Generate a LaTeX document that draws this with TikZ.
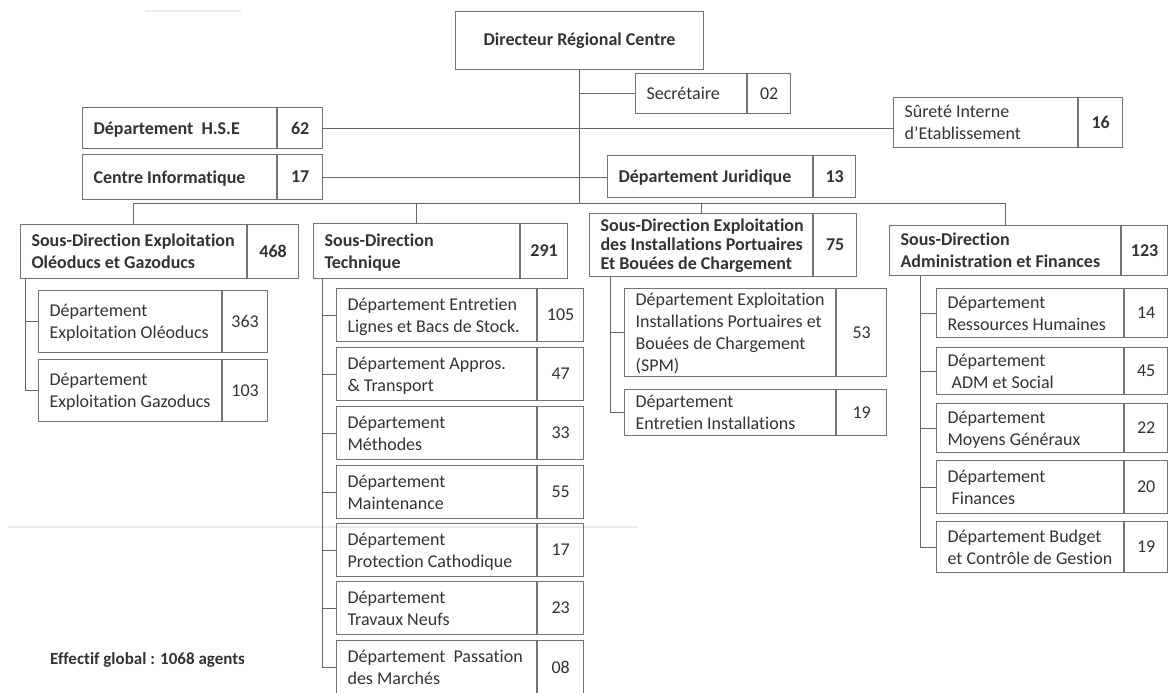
\documentclass[tikz,border=0pt]{standalone}
\usepackage{fontspec}
\setmainfont{Carlito}[Ligatures={TeX,NoCommon}]
\usetikzlibrary{positioning}

\tikzset{
  cell/.style={draw=black!55, line width=1.1pt, inner sep=0pt, text=black!80},
  head/.style={cell, font=\bfseries\fontsize{18}{22}\selectfont},
  dept/.style={cell, font=\fontsize{18}{22}\selectfont},
  tight/.style={font=\bfseries\fontsize{18}{19}\selectfont},
  link/.style={draw=black!60, line width=1pt},
}

% text block, left aligned in a cell of given width
\newcommand{\cellrows}[2]{\makebox[\dimexpr#1pt-22pt\relax][l]{\raisebox{-2pt}[\height][\depth]{\begin{tabular}{@{}l@{}}#2\end{tabular}}}}
% style, name, x, y, label width, number width, height, text, number
\newcommand{\orgunit}[9]{%
  \node[#1, anchor=north west, minimum width=#5, minimum height=#7] (#2) at (#3,#4) {\cellrows{#5}{#8}};
  \node[#1, anchor=north west, minimum width=#6, minimum height=#7] (#2n) at (#2.north east) {#9};}

\begin{document}
\begin{tikzpicture}[x=1pt, y=-1pt]
  \useasboundingbox (0,0) rectangle (1168,693);
  % scan marks
  \draw[black!8, line width=1.5pt] (145,11) -- (241,11);
  \draw[black!8, line width=1.5pt] (8,527) -- (638,527);

  % Direction
  \node[head, anchor=north west, minimum width=248, minimum height=58] (dir) at (455,11) {Directeur Régional Centre};
  \orgunit{dept}{sec}{635}{73}{111}{43}{40}{Secrétaire}{02}
  \orgunit{dept}{sur}{893}{97}{184}{44}{50}{Sûreté Interne\\d'Etablissement}{\bfseries 16}
  \orgunit{head}{hse}{82}{107}{194}{45}{41}{Département~~H.S.E}{62}
  \orgunit{head}{cin}{82}{154}{194}{45}{45}{Centre Informatique}{17}
  \orgunit{head}{jur}{607}{155}{205}{42}{42}{Département Juridique}{13}

  % Sous-directions
  \orgunit{head}{sd1}{20}{224}{226}{51}{54}{Sous-Direction Exploitation\\Oléoducs et Gazoducs}{468}
  \orgunit{head}{sd2}{313}{223}{206}{47}{55}{Sous-Direction\\Technique}{291}
  \orgunit{head,tight}{sd3}{589}{213}{223}{43}{63}{Sous-Direction Exploitation\\des Installations Portuaires\\Et Bouées de Chargement}{75}
  \orgunit{head}{sd4}{889}{225}{231}{46}{50}{Sous-Direction\\Administration et Finances}{123}

  % Oleoducs et Gazoducs
  \orgunit{dept}{og1}{38}{290}{183}{45}{62}{Département\\Exploitation Oléoducs}{363}
  \orgunit{dept}{og2}{38}{359}{183}{45}{62}{Département\\Exploitation Gazoducs}{103}

  % Technique
  \orgunit{dept}{te1}{336}{288}{200}{46}{53}{Département Entretien\\Lignes et Bacs de Stock.}{105}
  \orgunit{dept}{te2}{336}{347}{200}{46}{53}{Département Appros.\\\& Transport}{47}
  \orgunit{dept}{te3}{336}{406}{200}{46}{53}{Département\\Méthodes}{33}
  \orgunit{dept}{te4}{336}{465}{200}{46}{53}{Département\\Maintenance}{55}
  \orgunit{dept}{te5}{336}{523}{200}{46}{53}{Département\\Protection Cathodique}{17}
  \orgunit{dept}{te6}{336}{581}{200}{46}{53}{Département\\Travaux Neufs}{23}
  \orgunit{dept}{te7}{336}{640}{200}{46}{53}{Département~~Passation\\des Marchés}{08}

  % Installations portuaires
  \orgunit{dept}{ip1}{624}{288}{211}{50}{88}{Département Exploitation\\Installations Portuaires et\\Bouées de Chargement\\(SPM)}{53}
  \orgunit{dept}{ip2}{624}{389}{211}{50}{46}{Département\\Entretien Installations}{19}

  % Administration et Finances
  \orgunit{dept}{af1}{936}{288}{187}{43}{49}{Département\\Ressources Humaines}{14}
  \orgunit{dept}{af2}{936}{347}{187}{43}{47}{Département\\\ ADM et Social}{45}
  \orgunit{dept}{af3}{936}{403}{187}{43}{49}{Département\\Moyens Généraux}{22}
  \orgunit{dept}{af4}{936}{460}{187}{43}{53}{Département\\\ Finances}{20}
  \orgunit{dept}{af5}{936}{521}{187}{43}{51}{Département Budget\\et Contrôle de Gestion}{19}

  \node[font=\bfseries\fontsize{17}{20}\selectfont, text=black!80, anchor=west, inner sep=0pt] (total) at (50,660) {Effectif global : 1068 agents};

  % Links
  \coordinate (busy) at (0,203);
  \draw[link] (dir.south) -- (dir.south |- busy);
  \draw[link] (dir.south |- sec.west) -- (sec.west);
  \draw[link] (hsen.east) -- (hsen.east -| sur.west);
  \draw[link] (cinn.east) -- (cinn.east -| jur.west);
  \draw[link] (sd1.north) |- (sd4.north |- busy) -- (sd4.north);
  \draw[link] (sd2.north) -- (sd2.north |- busy);
  \draw[link] (sd3.north) -- (sd3.north |- busy);

  \coordinate (t1) at ([xshift=5pt]sd1.south west);
  \coordinate (t2) at ([xshift=9pt]sd2.south west);
  \coordinate (t3) at ([xshift=21pt]sd3.south west);
  \coordinate (t4) at ([xshift=31pt]sd4.south west);
  \draw[link] (t1) |- (og1.west) (t1) |- (og2.west);
  \draw[link] (t2) |- (te1.west) (t2) |- (te2.west) (t2) |- (te3.west) (t2) |- (te4.west)
              (t2) |- (te5.west) (t2) |- (te6.west) (t2) |- (te7.west);
  \draw[link] (t3) |- (ip1.west) (t3) |- (ip2.west);
  \draw[link] (t4) |- (af1.west) (t4) |- (af2.west) (t4) |- (af3.west) (t4) |- (af4.west) (t4) |- (af5.west);
\end{tikzpicture}
\end{document}
